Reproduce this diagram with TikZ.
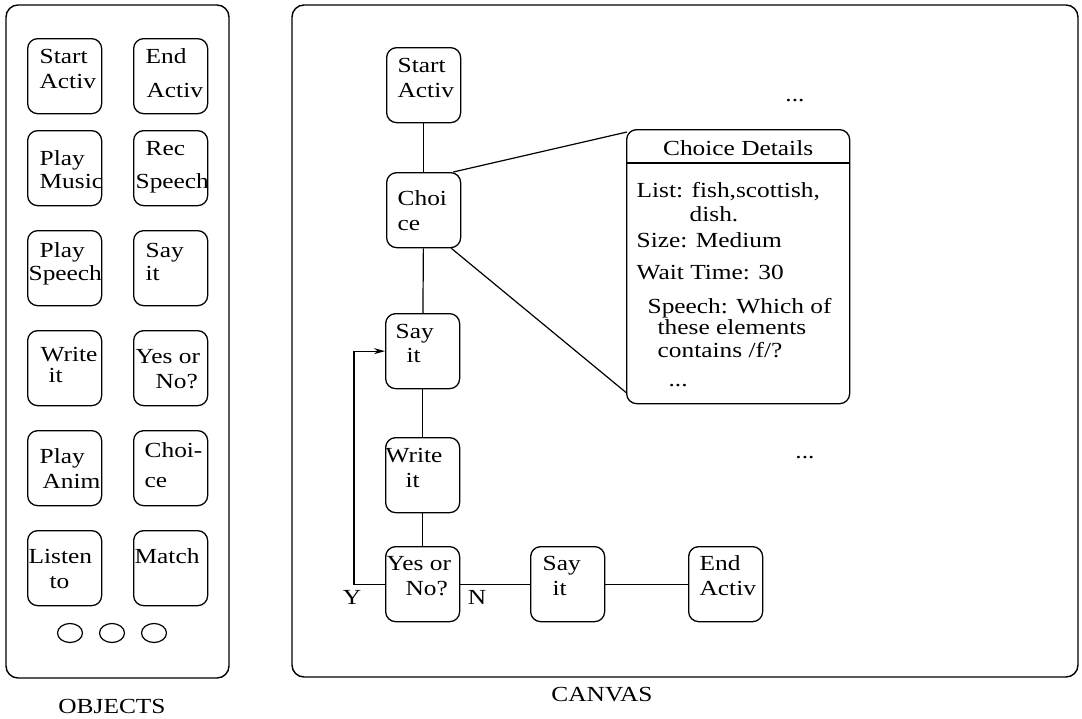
\documentclass[tikz,border=0pt]{standalone}
\usepackage{fontspec}
\setmainfont{Liberation Serif}[FakeStretch=1.18]
\usetikzlibrary{arrows.meta,calc,shapes.geometric}
\newcommand{\bx}[2]{\parbox[t][75pt][t]{74pt}{\hyphenpenalty=10000\exhyphenpenalty=10000\rule{0pt}{#1pt}#2}}
\newcommand{\ind}[1]{\hspace*{#1pt}}
\begin{document}
\begin{tikzpicture}[x=1pt,y=-1pt,
  every node/.style={font=\fontsize{21.5}{25}\selectfont},
  frame/.style={draw, line width=1.4pt, rounded corners=12pt},
  obox/.style={draw, line width=1.3pt, rounded corners=10pt, inner sep=0pt, anchor=north west},
  conn/.style={line width=1.2pt},
  dot/.style={draw, ellipse, line width=1.2pt, minimum width=25pt, minimum height=19pt, inner sep=0pt}]
\useasboundingbox (0,0) rectangle (1082,718);
\fill[white] (0,0) rectangle (1082,718);

% frames
\draw[frame] (6,5) rectangle (229,678);
\draw[frame] (292,5) rectangle (1078,677);
\node (objlbl) at (112,706) {OBJECTS};
\node (canlbl) at (602,695) {CANVAS};

% palette
\node[obox] (p1) at (27,38) {\bx{25}{\ind{12}Start\\\ind{12}Activ}};
\node[obox] (p2) at (133,38) {\bx{25}{\ind{12}End\\[9pt]\ind{13}Activ}};
\node[obox] (p3) at (27,130) {\bx{35}{\ind{12}Play\\[-2pt]\ind{12}Music}};
\node[obox] (p4) at (133,130) {\bx{25}{\ind{12}Rec\\[8pt]\ind{2}Speech}};
\node[obox] (p5) at (27,230) {\bx{27}{\ind{12}Play\\[-2pt]\ind{1}Speech}};
\node[obox] (p6) at (133,230) {\bx{27}{\ind{12}Say\\[-2pt]\ind{12}it}};
\node[obox] (p7) at (27,330) {\bx{31}{\ind{13}Write\\[-4pt]\ind{21}it}};
\node[obox] (p8) at (133,330) {\bx{33}{\ind{2}Yes or\\\ind{22}No?}};
\node[obox] (p9) at (27,430) {\bx{33}{\ind{12}Play\\\ind{15}Anim}};
\node[obox] (p10) at (133,430) {\bx{27}{\ind{11}Choi-\\[5pt]\ind{11}ce}};
\node[obox] (p11) at (27,530) {\bx{33}{\ind{1}Listen\\\ind{22}to}};
\node[obox] (p12) at (133,530) {\bx{33}{\ind{1}Match}};
\node[dot] (c1) at (70,633) {};
\node[dot] (c2) at (112,633) {};
\node[dot] (c3) at (154,633) {};

% canvas nodes
\node[obox] (sa) at (386,47) {\bx{25}{\ind{11}Start\\\ind{11}Activ}};
\node[obox] (ch) at (386,172) {\bx{33}{\ind{11}Choi\\\ind{11}ce}};
\node[obox] (say) at (385,313) {\bx{25}{\ind{10}Say\\[-1pt]\ind{21}it}};
\node[obox] (wr) at (385,437) {\bx{25}{Write\\\ind{20}it}};
\node[obox] (yn) at (385,546) {\bx{24}{\ind{1}Yes or\\\ind{20}No?}};
\node[obox] (say2) at (530,546) {\bx{24}{\ind{12}Say\\\ind{22}it}};
\node[obox] (ea) at (688,546) {\bx{24}{\ind{11}End\\\ind{11}Activ}};

\node (dots1) at (795,101) {...};
\node (dots2) at (805,458) {...};

% details box
\node[obox] (det) at (626,129) {\parbox[t][274pt][t]{223pt}{\hyphenpenalty=10000\rule{0pt}{26pt}\makebox[223pt][c]{Choice Details}\\[17pt]
\ind{10}List: fish,scottish,\\[-1pt]
\ind{63}dish.\\[1pt]
\ind{10}Size: Medium\\[7pt]
\ind{10}Wait Time: 30\\[9pt]
\ind{21}Speech: Which of\\[-4pt]
\ind{31}these elements\\[-2pt]
\ind{31}contains /f/?\\[4pt]
\ind{42}...}};
\draw[line width=1.3pt] ($(det.north west)+(0,34)$) -- ($(det.north east)+(0,34)$);

% connectors
\draw[conn] (sa) -- (ch);
\draw[conn] (ch) -- (say);
\draw[conn] (say) -- (wr);
\draw[conn] (wr) -- (yn);
\draw[conn] (yn) -- (say2);
\draw[conn] (say2) -- (ea);
\draw[conn] ($(ch.north east)+(-8,0)$) -- ($(det.north west)+(1,3)$);
\draw[conn] ($(ch.south east)+(-10,0)$) -- ($(det.south west)+(1,-11)$);
\coordinate (yl) at (354,0);
\draw[conn,-{Stealth[length=11pt,width=6pt]}] (yn.west) -- (yn.west -| yl) |- (say.west);
\node (ylab) at (352,597) {Y};
\node (nlab) at (477,597) {N};
\end{tikzpicture}
\end{document}
